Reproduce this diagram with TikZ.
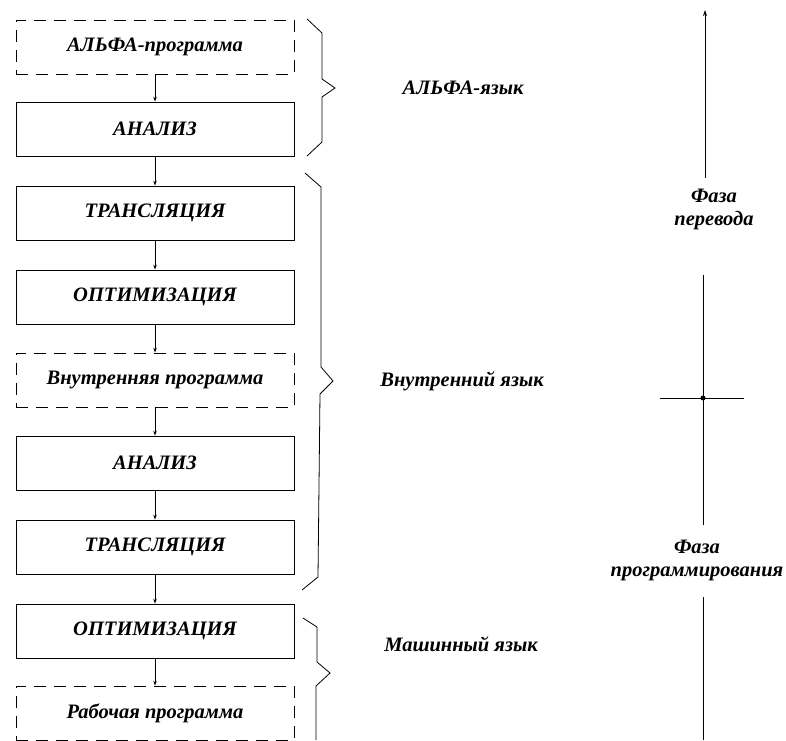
\documentclass[tikz,border=0pt]{standalone}
\usepackage{fontspec}
\setmainfont{Liberation Serif}
\usetikzlibrary{arrows.meta}
\begin{document}
\begin{tikzpicture}[x=1pt,y=-1pt,
  lbl/.style={font=\fontsize{20.5}{23}\selectfont\bfseries\itshape},
  solidbox/.style={draw, line width=0.8pt, minimum width=278pt, minimum height=54pt, inner sep=0pt, lbl},
  dashbox/.style={solidbox, dash pattern=on 12pt off 8pt},
  conn/.style={line width=0.7pt, -{Stealth[length=5pt,width=3.5pt]}},
  brace/.style={line width=0.8pt, line join=miter},
  axis/.style={line width=0.9pt},
  side/.style={lbl, align=center}]
\useasboundingbox (0,0) rectangle (786,740);
\node[dashbox]  (b1) at (155,47)  {АЛЬФА-программа};
\node[solidbox] (b2) at (155,129) {АНАЛИЗ};
\node[solidbox] (b3) at (155,213) {ТРАНСЛЯЦИЯ};
\node[solidbox] (b4) at (155,297) {ОПТИМИЗАЦИЯ};
\node[dashbox]  (b5) at (155,380) {Внутренняя программа};
\node[solidbox] (b6) at (155,463) {АНАЛИЗ};
\node[solidbox] (b7) at (155,547) {ТРАНСЛЯЦИЯ};
\node[solidbox] (b8) at (155,631) {ОПТИМИЗАЦИЯ};
\node[dashbox]  (b9) at (155,713) {Рабочая программа};
\foreach \a/\b in {b1/b2,b2/b3,b3/b4,b4/b5,b5/b6,b6/b7,b7/b8,b8/b9}
  \draw[conn] (\a.south) -- (\b.north);
% braces
\draw[brace] (307,19) -- (322,33) -- (322,79) -- (335,88) -- (322,97) -- (322,142) -- (307,156);
\draw[brace] (305,173) -- (321,187) -- (321,367) -- (333,381) -- (320,394) -- (318,577) -- (302,590);
\draw[brace] (303,618) -- (317,627) -- (317,662) -- (330,673) -- (316,686) -- (316,740);
\node[lbl] (l1) at (463,88)  {АЛЬФА-язык};
\node[lbl] (l2) at (462,381) {Внутренний язык};
\node[lbl] (l3) at (461,644) {Машинный язык};
% axis
\coordinate (a1s) at (705,178);
\coordinate (a1e) at (705,10);
\draw[axis, -{Stealth[length=6pt,width=4pt]}] (a1s) -- (a1e);
\node[side] (f1) at (714,209) {Фаза\\перевода};
\coordinate (a2s) at (703,275);
\coordinate (a2e) at (703,525);
\draw[axis] (a2s) -- (a2e);
\coordinate (c1) at (660,398);
\coordinate (c2) at (744,398);
\draw[axis] (c1) -- (c2);
\fill (703,398) circle (2.5pt);
\node[side] (f2) at (697,560) {Фаза\\программирования};
\coordinate (a3s) at (703,597);
\coordinate (a3e) at (703,740);
\draw[axis] (a3s) -- (a3e);
\end{tikzpicture}
\end{document}
